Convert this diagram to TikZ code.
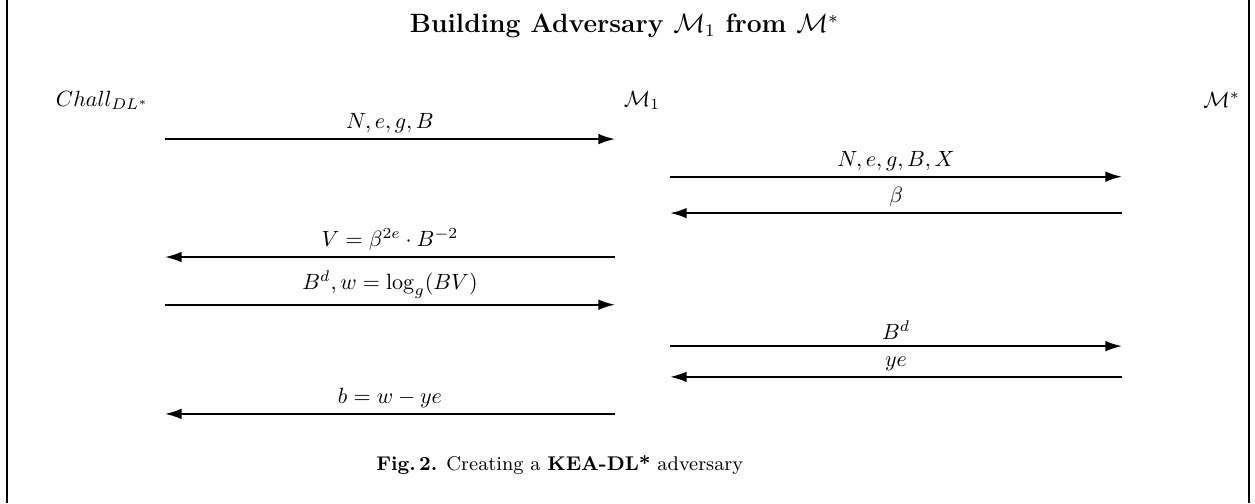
\documentclass[tikz,border=0pt]{standalone}
\usepackage{amsmath}
\usepackage{tikz}
\usetikzlibrary{arrows.meta,positioning}

\begin{document}
\begin{tikzpicture}[font=\normalsize,
party/.style={inner sep=0pt},
msg/.style={-{Latex[length=7.5pt,width=4.8pt]},thick},
lbl/.style={above,inner sep=2.5pt}]
\useasboundingbox (0,0) rectangle (20,8.016);
% frame sides
\draw[thick] (0.11,0) -- (0.11,8.016);
\draw[thick] (19.90,0) -- (19.90,8.016);
\node (title) at (9.95,7.60) {\large\textbf{Building Adversary $\mathcal{M}_1$ from $\mathcal{M}^*$}};
\node[party] (chall) at (1.63,6.42) {$Chall_{DL^*}$};
\node[party] (madv) at (10.23,6.42) {$\mathcal{M}_1$};
\node[party] (mstar) at (19.47,6.42) {$\mathcal{M}^*$};
% message rows: Chall side (a,b), M* side (c,d)
\foreach \n/\y in {1/5.80,4/3.92,5/3.16,8/1.42} {
  \coordinate (a\n) at (2.63,\y); \coordinate (b\n) at (9.80,\y);}
\foreach \n/\y in {2/5.20,3/4.62,6/2.50,7/2.01} {
  \coordinate (c\n) at (10.68,\y); \coordinate (d\n) at (17.88,\y);}
\draw[msg] (a1) -- node[lbl] (m1) {$N,e,g,B$} (b1);
\draw[msg] (c2) -- node[lbl] (m2) {$N,e,g,B,X$} (d2);
\draw[msg] (d3) -- node[lbl] (m3) {$\beta$} (c3);
\draw[msg] (b4) -- node[lbl] (m4) {$V=\beta^{2e}\cdot B^{-2}$} (a4);
\draw[msg] (a5) -- node[lbl] (m5) {$B^d,w=\log_g(BV)$} (b5);
\draw[msg] (c6) -- node[lbl] (m6) {$B^d$} (d6);
\draw[msg] (d7) -- node[lbl] (m7) {$ye$} (c7);
\draw[msg] (b8) -- node[lbl] (m8) {$b=w-ye$} (a8);
\node (caption) at (8.92,0.61) {\small\textbf{Fig.\,2.} Creating a \textbf{KEA-DL*} adversary};
\end{tikzpicture}
\end{document}
